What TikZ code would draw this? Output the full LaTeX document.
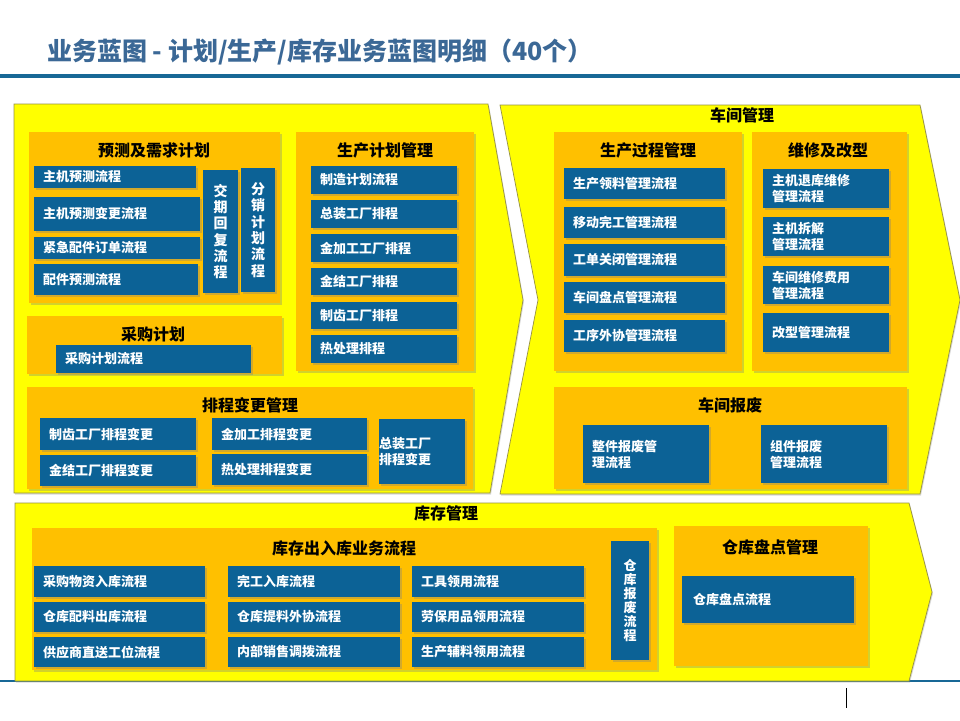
\documentclass[tikz,border=0pt]{standalone}
\usepackage{fontspec}
\setmainfont{Noto Sans CJK SC}
\usetikzlibrary{shadows}
\definecolor{ylw}{RGB}{255,255,0}
\definecolor{yedge}{RGB}{150,145,70}
\definecolor{org}{RGB}{255,192,0}
\definecolor{blu}{RGB}{12,98,150}
\definecolor{ttl}{RGB}{59,104,150}
\definecolor{lne}{RGB}{24,104,150}
\tikzset{
  shd/.style={drop shadow={shadow xshift=2pt,shadow yshift=-2pt,opacity=0.35}},
  chev/.style={fill=ylw,draw=yedge,line width=0.7pt,drop shadow={shadow xshift=1pt,shadow yshift=-1.5pt,opacity=0.3}},
  obox/.style={fill=org,inner sep=0pt,shd},
  otitle/.style={font=\fontsize{16}{18}\selectfont\bfseries,text=black,inner sep=0pt},
  zlabel/.style={font=\fontsize{16}{18}\selectfont\bfseries,text=black,inner sep=0pt},
  bbox/.style={fill=blu,text=white,font=\fontsize{13}{16}\selectfont\bfseries,align=left,inner xsep=9pt,inner ysep=0pt,shd},
  vbox/.style={fill=blu,text=white,font=\fontsize{14}{16.3}\selectfont\bfseries,align=center,inner sep=0pt,shd},
}
\newcommand\bx[7][]{%
  \pgfmathsetmacro\bxw{#5-#3}%
  \pgfmathsetmacro\bxh{#6-#4}%
  \pgfmathsetmacro\bxt{#5-#3-18}%
  \node[bbox,minimum width=\bxw pt,minimum height=\bxh pt,text width=\bxt pt,#1] (#2) at ({(#3+#5)/2},{(#4+#6)/2}) {#7};}
\newcommand\vx[7][]{%
  \pgfmathsetmacro\bxw{#5-#3}%
  \pgfmathsetmacro\bxh{#6-#4}%
  \node[vbox,minimum width=\bxw pt,minimum height=\bxh pt,#1] (#2) at ({(#3+#5)/2},{(#4+#6)/2}) {#7};}
\newcommand\ob[5]{%
  \pgfmathsetmacro\bxw{#4-#2}%
  \pgfmathsetmacro\bxh{#5-#3}%
  \node[obox,minimum width=\bxw pt,minimum height=\bxh pt] (#1) at ({(#2+#4)/2},{(#3+#5)/2}) {};}
\begin{document}
\begin{tikzpicture}[x=1pt,y=-1pt]
\useasboundingbox (0,0) rectangle (960,720);
\fill[white] (0,0) rectangle (960,720);
% title and rules
\node[anchor=west,inner sep=0pt,text=ttl,font=\fontsize{25}{28}\selectfont\bfseries] (title) at (47,52) {业务蓝图 - 计划/生产/库存业务蓝图明细（40个）};
\draw[lne,line width=4pt] (0,76) -- (960,76);
\draw[lne,line width=2pt] (0,681) -- (960,681);
\draw[black,line width=1pt] (846,688) -- (846,708);
% chevrons
\path[chev] (14,104) -- (488,104) -- (523,300) -- (490,493) -- (14,493) -- cycle;
\path[chev] (500,105) -- (920,105) -- (960,300) -- (920,494) -- (500,494) -- (538,300) -- cycle;
\path[chev] (15,503) -- (909,503) -- (932,592) -- (909,681) -- (15,681) -- cycle;
\node[zlabel] (zws) at (742,115) {车间管理};
\node[zlabel] (zst) at (446,513) {库存管理};
% planning
\ob{p1}{29}{132}{280}{303}
\node[otitle] (p1t) at (154,150) {预测及需求计划};
\bx{a1}{34}{166}{196}{188}{主机预测流程}
\bx{a2}{34}{197}{200}{231}{主机预测变更流程}
\bx{a3}{34}{237}{200}{259}{紧急配件订单流程}
\bx{a4}{34}{264}{198}{295}{配件预测流程}
\vx{a5}{203}{170}{238}{293}{交\\期\\回\\复\\流\\程}
\vx{a6}{241}{168}{275}{292}{分\\销\\计\\划\\流\\程}
\ob{p2}{296}{132}{474}{371}
\node[otitle] (p2t) at (385,150) {生产计划管理};
\bx{b1}{311}{166}{457}{194}{制造计划流程}
\bx{b2}{311}{200}{457}{228}{总装工厂排程}
\bx{b3}{311}{234}{457}{262}{金加工工厂排程}
\bx{b4}{311}{268}{457}{295}{金结工厂排程}
\bx{b5}{311}{302}{457}{329}{制齿工厂排程}
\bx{b6}{311}{335}{457}{363}{热处理排程}
\ob{p3}{27}{316}{282}{374}
\node[otitle] (p3t) at (153,334) {采购计划};
\bx{c1}{56}{345}{251}{373}{采购计划流程}
\ob{p4}{27}{387}{473}{489}
\node[otitle] (p4t) at (250,405) {排程变更管理};
\bx{d1}{40}{418}{196}{450}{制齿工厂排程变更}
\bx{d2}{40}{455}{196}{486}{金结工厂排程变更}
\bx{d3}{212}{418}{367}{450}{金加工排程变更}
\bx{d4}{212}{454}{367}{485}{热处理排程变更}
\node[bbox,inner xsep=0pt,minimum width=86pt,minimum height=65pt,text width=86pt] (d5) at (422,451.5) {总装工厂\\排程变更};
% workshop
\ob{w1}{554}{132}{742}{371}
\node[otitle] (w1t) at (648,150) {生产过程管理};
\bx{e1}{564}{168}{725}{199}{生产领料管理流程}
\bx{e2}{564}{207}{725}{238}{移动完工管理流程}
\bx{e3}{564}{244}{725}{276}{工单关闭管理流程}
\bx{e4}{564}{282}{725}{313}{车间盘点管理流程}
\bx{e5}{564}{320}{725}{352}{工序外协管理流程}
\ob{w2}{752}{132}{907}{371}
\node[otitle] (w2t) at (828,150) {维修及改型};
\bx{f1}{763}{169}{889}{208}{主机退库维修\\管理流程}
\bx{f2}{763}{217}{889}{256}{主机拆解\\管理流程}
\bx{f3}{763}{266}{889}{304}{车间维修费用\\管理流程}
\bx{f4}{763}{313}{889}{352}{改型管理流程}
\ob{w3}{554}{387}{907}{489}
\node[otitle] (w3t) at (730,405) {车间报废};
\bx{g1}{583}{425}{709}{483}{整件报废管\\理流程}
\bx{g2}{761}{425}{887}{483}{组件报废\\管理流程}
% stock
\ob{s1}{32}{528}{657}{670}
\node[otitle] (s1t) at (344,548) {库存出入库业务流程};
\bx{h11}{34}{566}{205}{597}{采购物资入库流程}
\bx{h21}{34}{602}{205}{632}{仓库配料出库流程}
\bx{h31}{34}{637}{205}{667}{供应商直送工位流程}
\bx{h12}{228}{566}{400}{597}{完工入库流程}
\bx{h22}{228}{602}{400}{632}{仓库提料外协流程}
\bx{h32}{228}{637}{400}{667}{内部销售调拨流程}
\bx{h13}{412}{566}{584}{597}{工具领用流程}
\bx{h23}{412}{602}{584}{632}{劳保用品领用流程}
\bx{h33}{412}{637}{584}{667}{生产辅料领用流程}
\vx[font=\fontsize{13}{14}\selectfont\bfseries]{h4}{611}{541}{649}{660}{仓\\库\\报\\废\\流\\程}
\ob{s2}{674}{526}{868}{666}
\node[otitle] (s2t) at (770,547) {仓库盘点管理};
\bx[inner xsep=11pt]{k1}{684}{576}{852}{623}{仓库盘点流程}
\end{tikzpicture}
\end{document}
